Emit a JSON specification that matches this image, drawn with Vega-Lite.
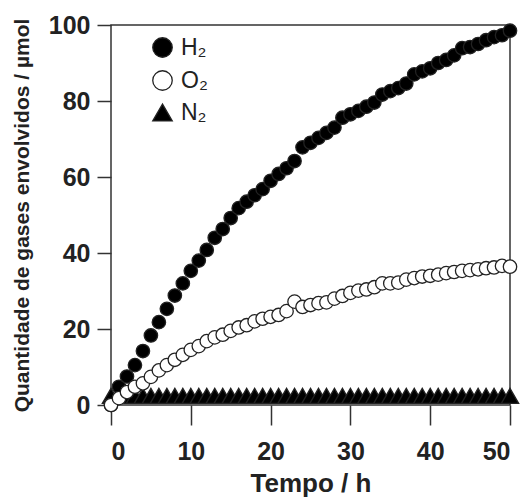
{
  "$schema": "https://vega.github.io/schema/vega-lite/v6.json",
  "width": 399,
  "height": 380,
  "autosize": {"type": "none"},
  "padding": {"left": 111, "top": 25, "right": 20, "bottom": 93},
  "background": "white",
  "config": {
    "view": {"stroke": "#333", "strokeWidth": 1.5},
    "font": "Liberation Sans",
    "legend": {
      "title": null, "orient": "none", "legendX": 40, "legendY": 11,
      "symbolSize": 380, "symbolStrokeWidth": 1.3,
      "labelFont": "Liberation Sans", "labelFontSize": 23, "labelColor": "#222", "rowPadding": 8, "labelOffset": 7
    }
  },
  "data": {
    "values": [
      {"t":0,"v":2.4,"gas":"N₂"},{"t":1,"v":2.4,"gas":"N₂"},{"t":2,"v":2.4,"gas":"N₂"},{"t":3,"v":2.4,"gas":"N₂"},{"t":4,"v":2.4,"gas":"N₂"},{"t":5,"v":2.4,"gas":"N₂"},{"t":6,"v":2.4,"gas":"N₂"},{"t":7,"v":2.4,"gas":"N₂"},{"t":8,"v":2.4,"gas":"N₂"},{"t":9,"v":2.4,"gas":"N₂"},
      {"t":10,"v":2.4,"gas":"N₂"},{"t":11,"v":2.4,"gas":"N₂"},{"t":12,"v":2.4,"gas":"N₂"},{"t":13,"v":2.4,"gas":"N₂"},{"t":14,"v":2.4,"gas":"N₂"},{"t":15,"v":2.4,"gas":"N₂"},{"t":16,"v":2.4,"gas":"N₂"},{"t":17,"v":2.4,"gas":"N₂"},{"t":18,"v":2.4,"gas":"N₂"},{"t":19,"v":2.4,"gas":"N₂"},
      {"t":20,"v":2.4,"gas":"N₂"},{"t":21,"v":2.4,"gas":"N₂"},{"t":22,"v":2.4,"gas":"N₂"},{"t":23,"v":2.4,"gas":"N₂"},{"t":24,"v":2.4,"gas":"N₂"},{"t":25,"v":2.4,"gas":"N₂"},{"t":26,"v":2.4,"gas":"N₂"},{"t":27,"v":2.4,"gas":"N₂"},{"t":28,"v":2.4,"gas":"N₂"},{"t":29,"v":2.4,"gas":"N₂"},
      {"t":30,"v":2.4,"gas":"N₂"},{"t":31,"v":2.4,"gas":"N₂"},{"t":32,"v":2.4,"gas":"N₂"},{"t":33,"v":2.4,"gas":"N₂"},{"t":34,"v":2.4,"gas":"N₂"},{"t":35,"v":2.4,"gas":"N₂"},{"t":36,"v":2.4,"gas":"N₂"},{"t":37,"v":2.4,"gas":"N₂"},{"t":38,"v":2.4,"gas":"N₂"},{"t":39,"v":2.4,"gas":"N₂"},
      {"t":40,"v":2.4,"gas":"N₂"},{"t":41,"v":2.4,"gas":"N₂"},{"t":42,"v":2.4,"gas":"N₂"},{"t":43,"v":2.4,"gas":"N₂"},{"t":44,"v":2.4,"gas":"N₂"},{"t":45,"v":2.4,"gas":"N₂"},{"t":46,"v":2.4,"gas":"N₂"},{"t":47,"v":2.4,"gas":"N₂"},{"t":48,"v":2.4,"gas":"N₂"},{"t":49,"v":2.4,"gas":"N₂"},
      {"t":50,"v":2.4,"gas":"N₂"},
      {"t":0,"v":0,"gas":"H₂"},{"t":1,"v":4.8,"gas":"H₂"},{"t":2,"v":7.5,"gas":"H₂"},{"t":3,"v":10.5,"gas":"H₂"},{"t":4,"v":14.2,"gas":"H₂"},{"t":5,"v":18.3,"gas":"H₂"},{"t":6,"v":21.8,"gas":"H₂"},{"t":7,"v":25.3,"gas":"H₂"},{"t":8,"v":28.8,"gas":"H₂"},{"t":9,"v":32,"gas":"H₂"},
      {"t":10,"v":35.3,"gas":"H₂"},{"t":11,"v":38,"gas":"H₂"},{"t":12,"v":40.8,"gas":"H₂"},{"t":13,"v":44,"gas":"H₂"},{"t":14,"v":46.3,"gas":"H₂"},{"t":15,"v":49.2,"gas":"H₂"},{"t":16,"v":51.8,"gas":"H₂"},{"t":17,"v":53.5,"gas":"H₂"},{"t":18,"v":55.2,"gas":"H₂"},{"t":19,"v":56.8,"gas":"H₂"},
      {"t":20,"v":59,"gas":"H₂"},{"t":21,"v":60.8,"gas":"H₂"},{"t":22,"v":62.3,"gas":"H₂"},{"t":23,"v":64.2,"gas":"H₂"},{"t":24,"v":67.8,"gas":"H₂"},{"t":25,"v":69,"gas":"H₂"},{"t":26,"v":70.3,"gas":"H₂"},{"t":27,"v":71.6,"gas":"H₂"},{"t":28,"v":73,"gas":"H₂"},{"t":29,"v":75.6,"gas":"H₂"},
      {"t":30,"v":76.5,"gas":"H₂"},{"t":31,"v":77.4,"gas":"H₂"},{"t":32,"v":78.5,"gas":"H₂"},{"t":33,"v":79.6,"gas":"H₂"},{"t":34,"v":81.7,"gas":"H₂"},{"t":35,"v":82.6,"gas":"H₂"},{"t":36,"v":83.4,"gas":"H₂"},{"t":37,"v":84.6,"gas":"H₂"},{"t":38,"v":87,"gas":"H₂"},{"t":39,"v":87.8,"gas":"H₂"},
      {"t":40,"v":88.6,"gas":"H₂"},{"t":41,"v":90,"gas":"H₂"},{"t":42,"v":90.8,"gas":"H₂"},{"t":43,"v":92,"gas":"H₂"},{"t":44,"v":93.9,"gas":"H₂"},{"t":45,"v":94.2,"gas":"H₂"},{"t":46,"v":95,"gas":"H₂"},{"t":47,"v":96,"gas":"H₂"},{"t":48,"v":96.8,"gas":"H₂"},{"t":49,"v":97.3,"gas":"H₂"},
      {"t":50,"v":98.5,"gas":"H₂"},
      {"t":0,"v":0,"gas":"O₂"},{"t":1,"v":1.8,"gas":"O₂"},{"t":2,"v":3.4,"gas":"O₂"},{"t":3,"v":4.8,"gas":"O₂"},{"t":4,"v":5.7,"gas":"O₂"},{"t":5,"v":7.4,"gas":"O₂"},{"t":6,"v":9.1,"gas":"O₂"},{"t":7,"v":10.5,"gas":"O₂"},{"t":8,"v":11.9,"gas":"O₂"},{"t":9,"v":13.2,"gas":"O₂"},
      {"t":10,"v":14.5,"gas":"O₂"},{"t":11,"v":15.5,"gas":"O₂"},{"t":12,"v":16.8,"gas":"O₂"},{"t":13,"v":17.8,"gas":"O₂"},{"t":14,"v":18.5,"gas":"O₂"},{"t":15,"v":19.5,"gas":"O₂"},{"t":16,"v":20.4,"gas":"O₂"},{"t":17,"v":21,"gas":"O₂"},{"t":18,"v":22,"gas":"O₂"},{"t":19,"v":22.7,"gas":"O₂"},
      {"t":20,"v":23.2,"gas":"O₂"},{"t":21,"v":23.7,"gas":"O₂"},{"t":22,"v":24.7,"gas":"O₂"},{"t":23,"v":27.2,"gas":"O₂"},{"t":24,"v":25.8,"gas":"O₂"},{"t":25,"v":26.3,"gas":"O₂"},{"t":26,"v":26.8,"gas":"O₂"},{"t":27,"v":27,"gas":"O₂"},{"t":28,"v":28,"gas":"O₂"},{"t":29,"v":28.7,"gas":"O₂"},
      {"t":30,"v":29.5,"gas":"O₂"},{"t":31,"v":30.1,"gas":"O₂"},{"t":32,"v":30.4,"gas":"O₂"},{"t":33,"v":31,"gas":"O₂"},{"t":34,"v":32,"gas":"O₂"},{"t":35,"v":32,"gas":"O₂"},{"t":36,"v":32.2,"gas":"O₂"},{"t":37,"v":33,"gas":"O₂"},{"t":38,"v":33.4,"gas":"O₂"},{"t":39,"v":33.8,"gas":"O₂"},
      {"t":40,"v":34,"gas":"O₂"},{"t":41,"v":34.3,"gas":"O₂"},{"t":42,"v":34.7,"gas":"O₂"},{"t":43,"v":35,"gas":"O₂"},{"t":44,"v":35.3,"gas":"O₂"},{"t":45,"v":35.5,"gas":"O₂"},{"t":46,"v":35.7,"gas":"O₂"},{"t":47,"v":36,"gas":"O₂"},{"t":48,"v":36.2,"gas":"O₂"},{"t":49,"v":36.6,"gas":"O₂"},
      {"t":50,"v":36.4,"gas":"O₂"}
    ]
  },
  "encoding": {
    "x": {
      "field": "t", "type": "quantitative",
      "scale": {"domain": [0, 50], "nice": false},
      "axis": {
        "title": "Tempo / h", "values": [0, 10, 20, 30, 40, 50], "grid": false, "domain": false,
        "tickSize": 20, "tickColor": "#333", "tickWidth": 1.5,
        "labelFont": "Liberation Sans", "labelFontSize": 25, "labelFontWeight": "bold", "labelColor": "#222", "labelPadding": 14,
        "titleFont": "Liberation Sans", "titleFontSize": 26, "titleFontWeight": "bold", "titleColor": "#222", "titlePadding": 6
      }
    },
    "y": {
      "field": "v", "type": "quantitative",
      "scale": {"domain": [0, 100], "nice": false},
      "axis": {
        "title": "Quantidade de gases envolvidos / µmol", "values": [0, 20, 40, 60, 80, 100], "grid": false, "domain": false,
        "tickSize": 14, "tickColor": "#333", "tickWidth": 1.5,
        "labelFont": "Liberation Sans", "labelFontSize": 25, "labelFontWeight": "bold", "labelColor": "#222", "labelPadding": 7,
        "titleFont": "Liberation Sans", "titleFontSize": 21, "titleFontWeight": "bold", "titleColor": "#222", "titlePadding": 16
      }
    },
    "shape": {
      "field": "gas", "type": "nominal",
      "scale": {"domain": ["H₂", "O₂", "N₂"], "range": ["circle", "circle", "triangle-up"]},
      "legend": {"title": null}
    },
    "fill": {
      "field": "gas", "type": "nominal",
      "scale": {"domain": ["H₂", "O₂", "N₂"], "range": ["#000000", "#ffffff", "#000000"]},
      "legend": {"title": null}
    },
    "stroke": {
      "field": "gas", "type": "nominal",
      "scale": {"domain": ["H₂", "O₂", "N₂"], "range": ["#222222", "#222222", "#222222"]},
      "legend": {"title": null}
    }
  },
  "layer": [
    {
      "transform": [{"filter": "datum.gas === 'N₂'"}],
      "mark": {"type": "point", "filled": true, "strokeWidth": 1.3, "opacity": 1, "size": 300}
    },
    {
      "transform": [{"filter": "datum.gas !== 'N₂'"}],
      "mark": {"type": "point", "filled": true, "strokeWidth": 1.3, "opacity": 1, "size": 180}
    }
  ]
}
